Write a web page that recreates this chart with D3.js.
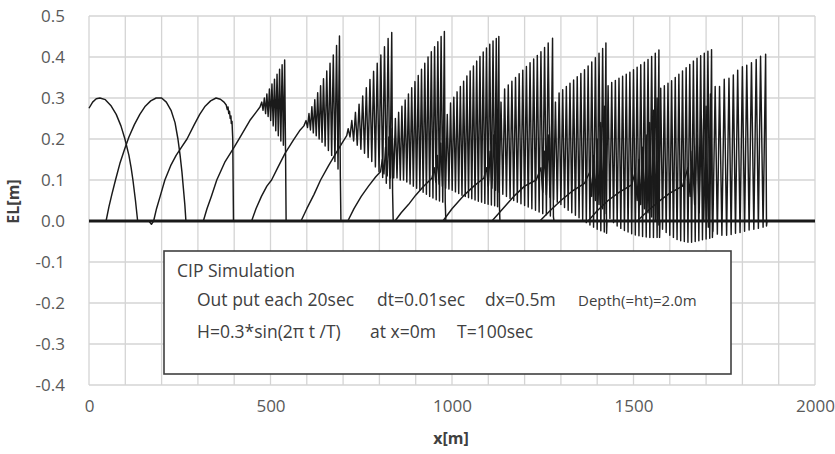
<!DOCTYPE html>
<html><head><meta charset="utf-8">
<script src="https://cdn.jsdelivr.net/npm/d3@7"></script>
<style>body{margin:0;background:#fff}svg{display:block}</style>
</head><body>
<svg id="chart" width="835" height="454"></svg>
<script>
// ---------- data (x in m, EL in m) ----------
const xTicks = [0, 500, 1000, 1500, 2000];
const yTicks = [-0.4, -0.3, -0.2, -0.1, 0.0, 0.1, 0.2, 0.3, 0.4, 0.5];
const xTitle = "x[m]";
const yTitle = "EL[m]";
const legendLines = [
  ["CIP Simulation"],
  ["Out put each 20sec", "dt=0.01sec", "dx=0.5m", "Depth(=ht)=2.0m"],
  ["H=0.3*sin(2\u03c0 \u0074 /T)", "at x=0m", "T=100sec"]
];

// snapshot fronts (where each profile drops to zero)
const fronts = [134, 267, 398, 543, 694, 838, 983, 1132, 1281, 1427, 1573, 1719, 1868];

// smooth parts of each snapshot [x, EL]
const smooth01 = [[0,0.275],[10,0.29],[20,0.298],[30,0.30],[45,0.296],[60,0.282],[75,0.26],[88,0.232],[99,0.20],[110,0.16],[116,0.13],[121,0.10],[128,0.05],[134,0]];
const smooth02 = [[0,0],[47,0],[55,0.035],[63,0.065],[73,0.10],[85,0.14],[98,0.175],[110,0.205],[125,0.235],[140,0.26],[155,0.28],[170,0.293],[185,0.30],[200,0.30],[213,0.29],[226,0.27],[237,0.24],[245,0.20],[251,0.16],[256,0.12],[260,0.08],[264,0.04],[267,0]];
const smooth03 = [[0,0],[165,0],[172,-0.008],[178,0],[186,0.03],[196,0.06],[209,0.10],[225,0.135],[240,0.16],[255,0.18],[270,0.20],[290,0.235],[305,0.26],[320,0.28],[335,0.293],[350,0.30],[362,0.297],[372,0.29],[378,0.283],[381,0.272],[383,0.278],[385,0.262],[387,0.268],[389,0.25],[391,0.256],[392,0.238],[394,0.243],[395,0.22],[396,0.2],[397,0.1],[398,0]];
const smooth04 = [[0,0],[315,0],[325,0.03],[337,0.06],[352,0.10],[375,0.145],[400,0.18],[420,0.21],[443,0.245],[460,0.265],[471,0.278]];
const smooth05 = [[0,0],[448,0],[460,0.03],[475,0.06],[490,0.085],[503,0.10],[520,0.13],[540,0.165],[563,0.197],[580,0.22],[592,0.232]];
const smooth06 = [[0,0],[584,0],[600,0.03],[620,0.065],[638,0.10],[660,0.135],[680,0.165],[697,0.19],[710,0.208]];
const smooth07 = [[0,0],[713,0],[730,0.03],[750,0.06],[770,0.085],[790,0.108],[803,0.12]];
const smooth08 = [[0,0],[843,0],[860,0.02],[880,0.04],[900,0.063],[920,0.083],[945,0.105]];
const smooth09 = [[0,0],[975,0],[1000,0.03],[1030,0.06],[1060,0.085],[1088,0.105]];
const smooth10 = [[0,0],[1110,0],[1140,0.03],[1170,0.06],[1200,0.085],[1232,0.1]];
const smooth11 = [[0,0],[1242,0],[1270,0.025],[1300,0.05],[1330,0.072],[1365,0.092]];
const smooth12 = [[0,0],[1375,0],[1400,0.025],[1430,0.05],[1460,0.07],[1495,0.088]];
const smooth13 = [[0,0],[1510,0],[1540,0.025],[1570,0.048],[1600,0.068],[1635,0.085]];

// oscillating (undular bore) parts: [x of crest, crest EL, trough EL]
const spikes04 = [[476,0.29,0.27],[483,0.30,0.262],[490,0.31,0.255],[497,0.322,0.245],[504,0.334,0.232],[511,0.346,0.22],[518,0.358,0.208],[525,0.37,0.195],[532,0.381,0.185],[539,0.393,0.175]];
const spikes05 = [[598,0.245,0.228],[606,0.262,0.222],[614,0.279,0.215],[622,0.296,0.208],[630,0.313,0.20],[638,0.33,0.192],[646,0.347,0.183],[655,0.366,0.172],[664,0.385,0.16],[673,0.405,0.145],[682,0.428,0.127],[690,0.451,0.108]];
const spikes06 = [[714,0.225,0.205],[724,0.245,0.195],[734,0.265,0.185],[744,0.285,0.175],[754,0.305,0.165],[764,0.325,0.155],[774,0.345,0.145],[784,0.365,0.132],[794,0.385,0.12],[804,0.405,0.106],[814,0.425,0.092],[824,0.445,0.079],[834,0.46,0.068]];
const spikes07 = [[808,0.15,0.115],[817,0.18,0.11],[826,0.205,0.105],[835,0.225,0.105],[844,0.25,0.105],[853,0.265,0.10],[862,0.28,0.10],[871,0.295,0.095],[880,0.31,0.09],[889,0.325,0.085],[898,0.34,0.08],[907,0.355,0.075],[916,0.37,0.07],[925,0.385,0.065],[934,0.40,0.06],[943,0.413,0.056],[952,0.425,0.052],[961,0.437,0.049],[970,0.45,0.046],[979,0.462,0.045]];
const spikes08 = [[951,0.13,0.095],[960,0.16,0.09],[969,0.19,0.085],[978,0.22,0.08],[987,0.26,0.078],[996,0.288,0.075],[1005,0.302,0.071],[1014,0.315,0.067],[1023,0.328,0.063],[1032,0.341,0.06],[1041,0.354,0.057],[1050,0.366,0.054],[1059,0.378,0.051],[1068,0.39,0.048],[1077,0.401,0.046],[1086,0.412,0.043],[1095,0.422,0.041],[1104,0.431,0.039],[1113,0.439,0.037],[1122,0.445,0.035],[1129,0.45,0.034]];
const spikes09 = [[1095,0.13,0.085],[1105,0.17,0.08],[1115,0.21,0.075],[1125,0.25,0.07],[1135,0.29,0.065],[1145,0.322,0.06],[1155,0.332,0.055],[1165,0.341,0.05],[1175,0.35,0.046],[1185,0.359,0.042],[1195,0.368,0.038],[1205,0.377,0.034],[1215,0.386,0.03],[1225,0.395,0.026],[1235,0.404,0.022],[1245,0.413,0.018],[1255,0.423,0.015],[1265,0.434,0.012],[1277,0.446,0.01]];
const spikes10 = [[1245,0.13,0.07],[1255,0.17,0.064],[1265,0.21,0.058],[1275,0.25,0.052],[1285,0.29,0.046],[1295,0.312,0.04],[1305,0.32,0.033],[1315,0.328,0.026],[1325,0.336,0.02],[1335,0.344,0.014],[1345,0.352,0.008],[1355,0.36,0.002],[1365,0.369,-0.004],[1375,0.378,-0.01],[1385,0.388,-0.015],[1395,0.398,-0.02],[1405,0.409,-0.024],[1415,0.421,-0.027],[1424,0.434,-0.03]];
const spikes11 = [[1380,0.12,0.06],[1390,0.16,0.05],[1400,0.2,0.04],[1410,0.24,0.03],[1420,0.28,0.018],[1430,0.33,0.006],[1440,0.338,-0.004],[1450,0.343,-0.012],[1460,0.348,-0.018],[1470,0.353,-0.023],[1480,0.358,-0.027],[1490,0.363,-0.031],[1500,0.369,-0.034],[1510,0.375,-0.036],[1520,0.381,-0.038],[1530,0.387,-0.039],[1540,0.394,-0.04],[1550,0.401,-0.04],[1560,0.409,-0.04],[1570,0.417,-0.04]];
const spikes12 = [[1505,0.12,0.05],[1515,0.15,0.04],[1525,0.18,0.03],[1535,0.21,0.02],[1545,0.24,0.01],[1555,0.27,0.0],[1565,0.30,-0.01],[1575,0.324,-0.02],[1585,0.33,-0.028],[1595,0.336,-0.035],[1605,0.342,-0.04],[1615,0.35,-0.045],[1625,0.358,-0.048],[1635,0.366,-0.05],[1645,0.374,-0.052],[1655,0.382,-0.052],[1665,0.39,-0.05],[1675,0.397,-0.048],[1685,0.403,-0.046],[1695,0.409,-0.044],[1705,0.414,-0.042],[1715,0.418,-0.04]];
const spikes13 = [[1650,0.13,0.06],[1662,0.17,0.04],[1675,0.21,0.02],[1687,0.25,0.0],[1700,0.28,-0.015],[1712,0.31,-0.025],[1725,0.328,-0.032],[1737,0.328,-0.035],[1750,0.346,-0.035],[1763,0.348,-0.033],[1775,0.356,-0.03],[1787,0.368,-0.028],[1800,0.376,-0.025],[1812,0.38,-0.022],[1825,0.386,-0.02],[1838,0.394,-0.018],[1850,0.402,-0.015],[1864,0.407,-0.012]];

const smoothParts = [smooth01, smooth02, smooth03, smooth04, smooth05, smooth06, smooth07, smooth08, smooth09, smooth10, smooth11, smooth12, smooth13];
const spikeParts = [null, null, null, spikes04, spikes05, spikes06, spikes07, spikes08, spikes09, spikes10, spikes11, spikes12, spikes13];

// ---------- chart ----------
const svg = d3.select("#chart");
const W = 835, H = 454;
const m = {left: 89, right: 20, top: 16, bottom: 69};
const x = d3.scaleLinear().domain([0, 2000]).range([m.left, W - m.right]);
const y = d3.scaleLinear().domain([-0.4, 0.5]).range([H - m.bottom, m.top]);

const gridColor = "#d4d4d4";
const labelColor = "#595959";
const font = "'Open Sans', 'Noto Sans', sans-serif";

// gridlines
const grid = svg.append("g");
grid.selectAll("line.v").data(d3.range(0, 2001, 100)).join("line")
  .attr("x1", d => x(d)).attr("x2", d => x(d))
  .attr("y1", y(0.5)).attr("y2", y(-0.4))
  .attr("stroke", gridColor).attr("stroke-width", 1.3);
grid.selectAll("line.h").data(yTicks).join("line")
  .attr("x1", x(0)).attr("x2", x(2000))
  .attr("y1", d => y(d)).attr("y2", d => y(d))
  .attr("stroke", gridColor).attr("stroke-width", 1.3);

// axes labels via d3 axes
const fmtY = d => d3.format(".1f")(d).replace("\u2212", "-");
const yAxis = d3.axisLeft(y).tickValues(yTicks).tickFormat(fmtY).tickSize(0).tickPadding(24);
const gy = svg.append("g").attr("transform", `translate(${m.left},0)`).call(yAxis);
gy.select(".domain").remove();
gy.selectAll("text").attr("fill", labelColor).style("font-family", font).style("font-size", "17px");

const xAxis = d3.axisBottom(x).tickValues(xTicks).tickFormat(d3.format("d")).tickSize(0).tickPadding(15);
const gx = svg.append("g").attr("transform", `translate(0,${y(-0.4)})`).call(xAxis);
gx.select(".domain").remove();
gx.selectAll("text").attr("fill", labelColor).style("font-family", font).style("font-size", "17px");

// build profiles
function buildProfile(i) {
  const pts = smoothParts[i].slice();
  const sp = spikeParts[i];
  const front = fronts[i];
  if (sp) {
    sp.forEach((s, j) => {
      pts.push([s[0], s[1]]);
      const tx = j < sp.length - 1 ? (s[0] + sp[j + 1][0]) / 2 : s[0] + (front - s[0]) * 0.6;
      pts.push([tx, s[2]]);
    });
    pts.push([front, 0]);
  }
  pts.push([2000, 0]);
  return pts;
}
const profiles = smoothParts.map((_, i) => buildProfile(i));

const line = d3.line().x(d => x(d[0])).y(d => y(d[1]));

// zero line (horizontal axis, crosses at 0)
svg.append("line")
  .attr("x1", x(0)).attr("x2", x(2000)).attr("y1", y(0)).attr("y2", y(0))
  .attr("stroke", "#1a1a1a").attr("stroke-width", 2.8);

svg.append("g").selectAll("path").data(profiles).join("path")
  .attr("d", line)
  .attr("fill", "none")
  .attr("stroke", "#1a1a1a")
  .attr("stroke-width", 1.45)
  .attr("stroke-linejoin", "round");

// axis titles
svg.append("text")
  .attr("transform", `translate(19,${(y(0.5)+y(-0.4))/2 + 1}) rotate(-90)`)
  .attr("text-anchor", "middle")
  .attr("fill", "#404040").style("font-family", font).style("font-size", "16px").style("font-weight", "bold")
  .text(yTitle);
svg.append("text")
  .attr("x", (x(0)+x(2000))/2 - 1).attr("y", 444)
  .attr("text-anchor", "middle")
  .attr("fill", "#404040").style("font-family", font).style("font-size", "16px").style("font-weight", "bold")
  .text(xTitle);

// annotation box
const box = {x0: 164, y0: 251, x1: 731, y1: 374};
const lg = svg.append("g");
lg.append("rect")
  .attr("x", box.x0).attr("y", box.y0).attr("width", box.x1 - box.x0).attr("height", box.y1 - box.y0)
  .attr("fill", "#fff").attr("stroke", "#3f3f3f").attr("stroke-width", 1.6);

const lineY = [277, 306, 338];
const segX = [[177], [197, 377, 485, 578], [197, 370, 457]];
const segSize = [[17.5], [17.5, 17.5, 17.5, 15], [17.5, 17.5, 17.5]];
legendLines.forEach((segs, li) => {
  segs.forEach((s, si) => {
    lg.append("text")
      .attr("x", segX[li][si]).attr("y", lineY[li])
      .attr("fill", "#404040").style("font-family", font)
      .style("font-size", segSize[li][si] + "px")
      .text(s);
  });
});
</script>
</body></html>
